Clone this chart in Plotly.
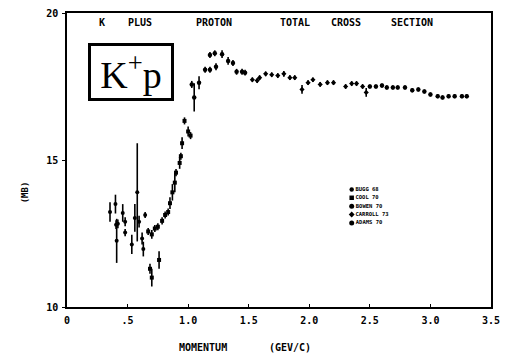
import plotly.graph_objects as go

# K+ p total cross section (mb) versus beam momentum (GeV/c), five data sets
labels = ["BUGG 68", "COOL 70", "BOWEN 70", "CARROLL 73", "ADAMS 70"]

p1 = [0.355, 0.40, 0.405, 0.41, 0.42, 0.46, 0.48, 0.48, 0.535, 0.56, 0.58, 0.595,
      0.62, 0.63, 0.645]
s1 = [13.23, 13.5, 12.8, 12.25, 12.83, 13.2, 12.9, 12.53, 12.13, 13.03, 13.9, 12.9,
      12.33, 11.97, 13.13]
e1 = [0.33, 0.32, 0.15, 0.75, 0.15, 0.3, 0.15, 0.12, 0.33, 0.47, 1.67, 0.2,
      0.2, 0.25, 0.1]

p2 = [0.67, 0.685, 0.70, 0.70, 0.725, 0.75, 0.76, 0.785, 0.81, 0.835, 0.85, 0.87,
      0.89, 0.90, 0.93, 0.94, 0.95, 0.97, 1.00, 1.02]
s2 = [12.57, 11.3, 11.0, 12.47, 12.67, 12.73, 11.6, 12.93, 13.13, 13.23, 13.53, 13.9,
      14.23, 14.57, 14.9, 15.13, 15.57, 16.33, 15.97, 15.83]
e2 = [0.12, 0.17, 0.3, 0.15, 0.12, 0.12, 0.3, 0.12, 0.12, 0.12, 0.2, 0.28,
      0.33, 0.12, 0.2, 0.12, 0.2, 0.12, 0.17, 0.12]

p3 = [1.03, 1.05, 1.09, 1.14, 1.18, 1.18, 1.22, 1.23, 1.28, 1.33, 1.37, 1.40,
      1.445, 1.47]
s3 = [17.57, 17.13, 17.63, 18.07, 18.07, 18.57, 18.63, 18.17, 18.6, 18.37, 18.3, 18.0,
      18.0, 17.97]
e3 = [0.12, 0.48, 0.22, 0.1, 0.1, 0.1, 0.1, 0.12, 0.13, 0.13, 0.1, 0.1,
      0.1, 0.1]

p4 = [1.53, 1.57, 1.59, 1.64, 1.69, 1.74, 1.79, 1.84, 1.88, 1.94, 1.99, 2.03,
      2.09, 2.15, 2.20, 2.30, 2.35, 2.39, 2.44, 2.47]
s4 = [17.73, 17.7, 17.8, 17.93, 17.9, 17.87, 17.93, 17.8, 17.8, 17.4, 17.63, 17.73,
      17.57, 17.63, 17.63, 17.5, 17.6, 17.6, 17.5, 17.3]
e4 = [0.08, 0.08, 0.08, 0.08, 0.08, 0.08, 0.1, 0.08, 0.08, 0.15, 0.08, 0.08,
      0.08, 0.08, 0.08, 0.08, 0.08, 0.08, 0.08, 0.15]

p5 = [2.50, 2.55, 2.60, 2.64, 2.69, 2.73, 2.79, 2.85, 2.90, 2.95, 3.00, 3.06,
      3.10, 3.15, 3.20, 3.26, 3.30]
s5 = [17.5, 17.5, 17.53, 17.47, 17.47, 17.47, 17.47, 17.37, 17.4, 17.33, 17.23, 17.17,
      17.13, 17.17, 17.17, 17.17, 17.17]
e5 = [0.07, 0.07, 0.07, 0.07, 0.07, 0.07, 0.07, 0.07, 0.07, 0.07, 0.07, 0.07,
      0.07, 0.07, 0.07, 0.07, 0.07]

x_tickvals = [0, 0.5, 1.0, 1.5, 2.0, 2.5, 3.0, 3.5]
x_ticktext = ["0", ".5", "1.0", "1.5", "2.0", "2.5", "3.0", "3.5"]
y_tickvals = [10, 15, 20]
y_ticktext = ["10", "15", "20"]

title_words = ["K", "PLUS", "PROTON", "TOTAL", "CROSS", "SECTION"]
title_word_x = [0.29, 0.60, 1.21, 1.88, 2.30, 2.85]

MONO = "DejaVu Sans Mono"
INK = "black"

series = [(p1, s1, e1), (p2, s2, e2), (p3, s3, e3), (p4, s4, e4), (p5, s5, e5)]
symbols = ["circle", "square", "circle", "diamond", "circle"]
sizes = [4, 4, 4.5, 4, 4.5]

fig = go.Figure()
for (px, sy, ey), sym, sz, name in zip(series, symbols, sizes, labels):
    fig.add_trace(go.Scatter(
        x=px, y=sy, mode="markers", name=name, showlegend=False,
        marker=dict(color=INK, size=sz, symbol=sym, line=dict(width=0)),
        error_y=dict(type="data", array=ey, visible=True, color=INK,
                     thickness=1.6, width=0),
    ))

# key block: symbols and set names stacked inside the frame
key_x = 2.35
key_top = 14.0
key_step = 0.285
key_y = [key_top - i * key_step for i in range(len(labels))]
for yy, sym, sz, name in zip(key_y, symbols, sizes, labels):
    fig.add_trace(go.Scatter(
        x=[key_x], y=[yy], mode="markers+text", showlegend=False,
        marker=dict(color=INK, size=sz + 0.5, symbol=sym, line=dict(width=0)),
        text=[name], textposition="middle right",
        textfont=dict(family=MONO, size=5.5, color=INK, weight="bold"),
        hoverinfo="skip",
    ))

annotations = []
for word, wx in zip(title_words, title_word_x):
    annotations.append(dict(
        x=wx, xref="x", y=0.968, yref="paper", text=word, showarrow=False,
        xanchor="center", yanchor="middle",
        font=dict(family=MONO, size=10, color=INK, weight="bold"),
    ))

# boxed reaction label
annotations.append(dict(
    x=0.53, xref="x", y=0.80, yref="paper", text="K<sup>+</sup>p",
    showarrow=False, xanchor="center", yanchor="middle",
    width=78, height=50, align="center", valign="middle",
    font=dict(family="Liberation Serif", size=38, color=INK),
    bordercolor=INK, borderwidth=3, borderpad=1, bgcolor="white",
))

# axis titles
annotations.append(dict(
    x=1.12, xref="x", y=-0.137, yref="paper", text="MOMENTUM", showarrow=False,
    xanchor="center", yanchor="middle",
    font=dict(family=MONO, size=10, color=INK, weight="bold"),
))
annotations.append(dict(
    x=1.84, xref="x", y=-0.137, yref="paper", text="(GEV/C)", showarrow=False,
    xanchor="center", yanchor="middle",
    font=dict(family=MONO, size=10, color=INK, weight="bold"),
))
annotations.append(dict(
    x=-0.099, xref="paper", y=0.39, yref="paper", text="(MB)", showarrow=False,
    xanchor="center", yanchor="middle", textangle=-90,
    font=dict(family=MONO, size=9, color=INK, weight="bold"),
))

fig.update_layout(
    width=513, height=358,
    margin=dict(l=67, r=22, t=7, b=51),
    paper_bgcolor="white", plot_bgcolor="white",
    showlegend=False,
    annotations=annotations,
    xaxis=dict(
        range=[0, 3.5], tickvals=x_tickvals, ticktext=x_ticktext,
        showgrid=False, zeroline=False, showline=True, mirror=True,
        linecolor=INK, linewidth=1.5, ticks="inside", ticklen=3, tickwidth=1.2,
        tickcolor=INK, ticklabelstandoff=3,
        tickfont=dict(family=MONO, size=10, color=INK, weight="bold"),
    ),
    yaxis=dict(
        range=[10, 20], tickvals=y_tickvals, ticktext=y_ticktext,
        showgrid=False, zeroline=False, showline=True, mirror=True,
        linecolor=INK, linewidth=1.5, ticks="outside", ticklen=3, tickwidth=1.2,
        tickcolor=INK, ticklabelstandoff=2,
        tickfont=dict(family=MONO, size=10, color=INK, weight="bold"),
    ),
)

fig.write_html("out.html")
